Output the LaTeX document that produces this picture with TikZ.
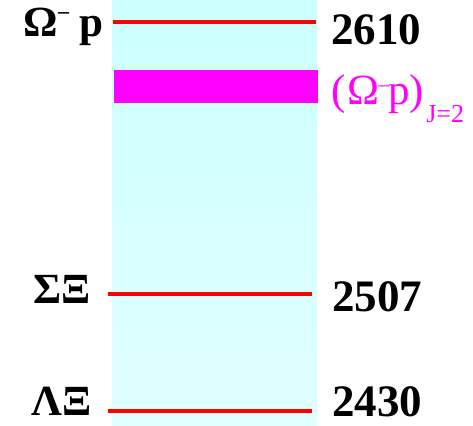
\documentclass[tikz,border=0pt]{standalone}
\usepackage{fontspec}
\setmainfont{Liberation Serif}
\usetikzlibrary{positioning}
\definecolor{bandtop}{HTML}{CCFFFF}
\definecolor{bandbot}{HTML}{E0FFFF}
\definecolor{lvlline}{HTML}{FF0000}
\definecolor{resfill}{HTML}{FF00FF}
\tikzset{
  lvl/.style   = {draw=lvlline, line width=4pt},
  chan/.style  = {anchor=base east, inner sep=0pt, text=black,
                  font=\fontsize{43}{43}\selectfont\bfseries},
  mass/.style  = {anchor=base west, inner sep=0pt, text=black, text depth=0pt,
                  font=\fontsize{45}{45}\selectfont\bfseries},
  reslbl/.style= {anchor=base west, inner sep=0pt, text=resfill,
                  font=\fontsize{43}{43}\selectfont},
}
\newcommand{\supminus}[1]{\raisebox{#1}{\fontsize{22}{22}\selectfont\textendash}}

\begin{document}
\begin{tikzpicture}[x=1pt,y=-1pt]
    \useasboundingbox (0,0) rectangle (473,425);
    % cyan column
    \shade[top color=bandtop, bottom color=bandbot] (112,0) rectangle (317,425);
    % thresholds and the J=2 state
    \draw[lvl] (113,22) -- (316,22);
    \foreach \y in {294,411}{\draw[lvl] (108,\y) -- (312,\y);}
    \fill[resfill] (114,70) rectangle (318,103);
    % channel names
    \node[chan] (omp) at (104,37)  {Ω\supminus{0.42em}\ p};
    \node[chan] (sx)  at (91,303)  {ΣΞ};
    \node[chan, text depth=0pt] (lx) at (92,415) {ΛΞ};
    % masses
    \node[mass] (m2610) at (331,45)  {2610};
    \node[mass] (m2507) at (332,311) {2507};
    \node[mass] (m2430) at (332,416) {2430};
    \node[reslbl] (res) at (331,104)
        {(\kern2ptΩ\kern-1pt\supminus{0.3em}\kern-1pt p)\kern2pt\raisebox{-0.42em}{\fontsize{26}{26}\selectfont J=2}};
\end{tikzpicture}
\end{document}
